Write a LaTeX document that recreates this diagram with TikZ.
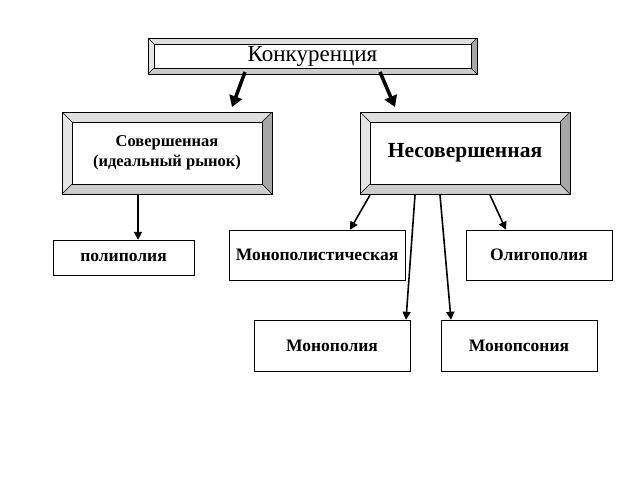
\documentclass[tikz,border=0pt]{standalone}
\usepackage{fontspec}
\setmainfont{Liberation Serif}
\usetikzlibrary{arrows.meta}
\newcommand\bevbox[7]{%
 % name, x1,y1,x2,y2,inset,text
 \fill[gray!25] (#2,#3)--(#4,#3)--(#4-#6,#3+#6)--(#2+#6,#3+#6)--cycle;
 \fill[gray!20] (#2,#3)--(#2+#6,#3+#6)--(#2+#6,#5-#6)--(#2,#5)--cycle;
 \fill[gray!70] (#4,#3)--(#4,#5)--(#4-#6,#5-#6)--(#4-#6,#3+#6)--cycle;
 \fill[gray!40] (#2,#5)--(#4,#5)--(#4-#6,#5-#6)--(#2+#6,#5-#6)--cycle;
 \draw[thin] (#2,#3) rectangle (#4,#5);
 \draw[thin] (#2+#6,#3+#6) rectangle (#4-#6,#5-#6);
 \draw[thin] (#2,#3)--(#2+#6,#3+#6) (#4,#3)--(#4-#6,#3+#6) (#2,#5)--(#2+#6,#5-#6) (#4,#5)--(#4-#6,#5-#6);
 \node[box,minimum width={(#4-#2)*1pt},minimum height={(#5-#3)*1pt}] (#1) at ({(#2+#4)/2},{(#3+#5)/2}) {#7};}
\begin{document}
\begin{tikzpicture}[x=1pt,y=-1pt,
 box/.style={inner sep=0pt,align=center,font=\bfseries\fontsize{17.5}{20}\selectfont},
 pbox/.style={draw,thin,fill=white,inner sep=0pt,align=center,font=\bfseries\fontsize{17.5}{20}\selectfont},
 thick arr/.style={line width=3.5pt,-{Triangle[length=11pt,width=13pt]}},
 thin arr/.style={line width=1.6pt,-{Triangle[length=8pt,width=8pt]}}]
\useasboundingbox (0,0) rectangle (640,480);
\bevbox{k}{148}{38}{477}{74}{6}{\mdseries\fontsize{23}{24}\selectfont Конкуренция}
\bevbox{s}{62}{112}{272}{194}{10}{\fontsize{16.5}{20}\selectfont Совершенная\\\fontsize{16.5}{20}\selectfont(идеальный рынок)}
\bevbox{n}{360}{112}{570}{194}{10}{\fontsize{21.5}{23}\selectfont Несовершенная}
\node[pbox,minimum width=141pt,minimum height=35pt] (p) at (123.5,257.5) {полиполия};
\node[pbox,minimum width=176pt,minimum height=50pt] (mp) at (317,255) {Монополистическая};
\node[pbox,minimum width=146pt,minimum height=50pt] (o) at (539,255) {Олигополия};
\node[pbox,minimum width=156pt,minimum height=51pt] (m) at (332,345.5) {Монополия};
\node[pbox,minimum width=156pt,minimum height=51pt] (ms) at (519,345.5) {Монопсония};
\coordinate (k1) at (245,72); \coordinate (k2) at (380,72);
\draw[thick arr] (k1) -- (232,107);
\draw[thick arr] (k2) -- (395,107);
\draw[thin arr] (s.south -| 138,0) -- (p.north -| 138,0);
\draw[thin arr] (370,195) -- (mp.north -| 350,0);
\draw[thin arr] (415,195) -- (m.north -| 406,0);
\draw[thin arr] (440,195) -- (ms.north -| 451,0);
\draw[thin arr] (490,195) -- (o.north -| 506,0);
\end{tikzpicture}
\end{document}
